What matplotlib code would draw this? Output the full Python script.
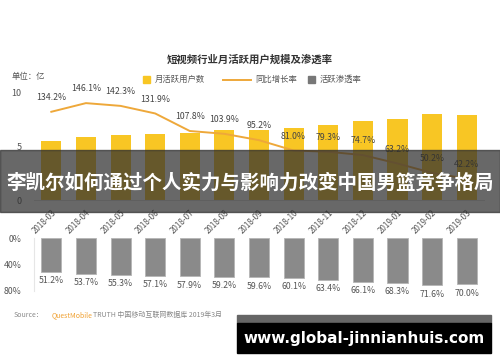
import matplotlib
matplotlib.use("Agg")
import matplotlib.pyplot as plt
from matplotlib.patches import Rectangle

plt.rcParams['font.family'] = ['Noto Sans CJK SC', 'DejaVu Sans']

meses = ["2018-03", "2018-04", "2018-05", "2018-06", "2018-07", "2018-08", "2018-09",
         "2018-10", "2018-11", "2018-12", "2019-01", "2019-02", "2019-03"]
mau = [5.5, 5.85, 6.05, 6.2, 6.3, 6.5, 6.5, 6.7, 7.0, 7.4, 7.6, 8.0, 7.9]
crescimento = [134.2, 146.1, 142.3, 131.9, 107.8, 103.9, 95.2, 81.0, 79.3, 74.7, 63.2, 50.2, 42.2]
penetracao = [51.2, 53.7, 55.3, 57.1, 57.9, 59.2, 59.6, 60.1, 63.4, 66.1, 68.3, 71.6, 70.0]

AMARELO = "#f8c624"
LARANJA = "#eea83a"
CINZA = "#8a8a8a"
TEXTO = "#555555"

W, H = 500, 362
fig = plt.figure(figsize=(W / 100, H / 100), dpi=100)
fig.patch.set_facecolor("white")

def fx(px):
    return px / W

def fy(py):
    return 1 - py / H

xs = list(range(len(meses)))

# grafico de cima: usuarios ativos mensais
ax1 = fig.add_axes([fx(34), fy(200), fx(450), (200 - 93) / H])
ax1.bar(xs, mau, width=0.58, color=AMARELO, zorder=2)
ax1.set_xlim(-0.5, len(meses) - 0.5)
ax1.set_ylim(0, 10)
ax1.set_yticks([0, 5, 10])
ax1.set_yticklabels(["0", "5", "10"])
ax1.tick_params(axis="y", length=0, pad=9, labelsize=6.5, labelcolor=TEXTO)
ax1.set_xticks(xs)
ax1.set_xticklabels(meses, rotation=45, ha="right", va="top", rotation_mode="anchor")
ax1.tick_params(axis="x", length=0, pad=6, labelsize=5.8, labelcolor=TEXTO)
for s in ["top", "right", "left"]:
    ax1.spines[s].set_visible(False)
ax1.spines["bottom"].set_color("#dddddd")
ax1.patch.set_alpha(0)

ax1b = ax1.twinx()
ax1b.set_ylim(13, 160)
ax1b.plot(xs, crescimento, color=LARANJA, linewidth=1.4, zorder=3)
for x, v in zip(xs, crescimento):
    ax1b.annotate(f"{v:.1f}%", (x, v), xytext=(0, 7), textcoords="offset points",
                  ha="center", va="bottom", fontsize=6.3, color="#444444")
ax1b.axis("off")

# grafico de baixo: taxa de penetracao
ax2 = fig.add_axes([fx(34), fy(291), fx(450), (291 - 238) / H])
ax2.bar(xs, penetracao, width=0.58, color=CINZA, edgecolor="#b5b5b5", linewidth=0.6)
ax2.set_xlim(-0.5, len(meses) - 0.5)
ax2.set_ylim(80, 0)
ax2.set_yticks([0, 40, 80])
ax2.set_yticklabels(["0%", "40%", "80%"])
ax2.tick_params(axis="y", length=0, pad=9, labelsize=6.3, labelcolor=TEXTO)
ax2.set_xticks([])
for s in ["top", "right", "bottom"]:
    ax2.spines[s].set_visible(False)
ax2.spines["left"].set_color("#e6e6e6")
for x, v in zip(xs, penetracao):
    ax2.annotate(f"{v:.1f}%", (x, v), xytext=(0, -3), textcoords="offset points",
                 ha="center", va="top", fontsize=6.3, color="#555555")

# titulo, unidade e legenda
fig.text(fx(250), fy(60), "短视频行业月活跃用户规模及渗透率", ha="center", va="center",
         fontsize=7.5, fontweight="bold", color="#333333")
fig.text(fx(12), fy(77), "单位：亿", ha="left", va="center", fontsize=6, color=TEXTO)
fig.patches.append(Rectangle((fx(143), fy(83)), fx(7), 7 / H, color=AMARELO,
                             transform=fig.transFigure, figure=fig))
fig.text(fx(155), fy(79), "月活跃用户数", ha="left", va="center", fontsize=6, color=TEXTO)
fig.lines.append(plt.Line2D([fx(223), fx(251)], [fy(80), fy(80)], color=LARANJA,
                            linewidth=1.4, transform=fig.transFigure, figure=fig))
fig.text(fx(255), fy(79), "同比增长率", ha="left", va="center", fontsize=6, color=TEXTO)
fig.patches.append(Rectangle((fx(308), fy(83)), fx(7), 7 / H, color="#777777",
                             transform=fig.transFigure, figure=fig))
fig.text(fx(320), fy(79), "活跃渗透率", ha="left", va="center", fontsize=6, color=TEXTO)

# fonte
fig.text(fx(14), fy(315), "Source：", ha="left", va="center", fontsize=5, color="#888888")
fig.text(fx(52), fy(315), "QuestMobile", ha="left", va="center", fontsize=5, color="#f0a030")
fig.text(fx(93), fy(315), "TRUTH 中国移动互联网数据库 2019年3月", ha="left", va="center",
         fontsize=5, color="#888888")

# faixa escura com o titulo sobreposto
fig.patches.append(Rectangle((0, fy(212)), 1, (212 - 150) / H, color="#2e2e2e", alpha=0.72,
                             transform=fig.transFigure, figure=fig, zorder=10))
fig.text(fx(250), fy(183), "李凯尔如何通过个人实力与影响力改变中国男篮竞争格局", ha="center",
         va="center", fontsize=14, fontweight="bold", color="white", zorder=11)

# marca d'agua do site
fig.patches.append(Rectangle((fx(237), fy(323)), fx(254), 8 / H, color="#666666",
                             transform=fig.transFigure, figure=fig, zorder=10))
fig.patches.append(Rectangle((fx(237), fy(353)), fx(254), 30 / H, color="black",
                             transform=fig.transFigure, figure=fig, zorder=10))
fig.text(fx(364), fy(338), "www.global-jinnianhuis.com", ha="center", va="center",
         fontsize=11, fontweight="bold", color="white", family="DejaVu Sans", zorder=11)

fig.savefig("out.png", dpi=100)
